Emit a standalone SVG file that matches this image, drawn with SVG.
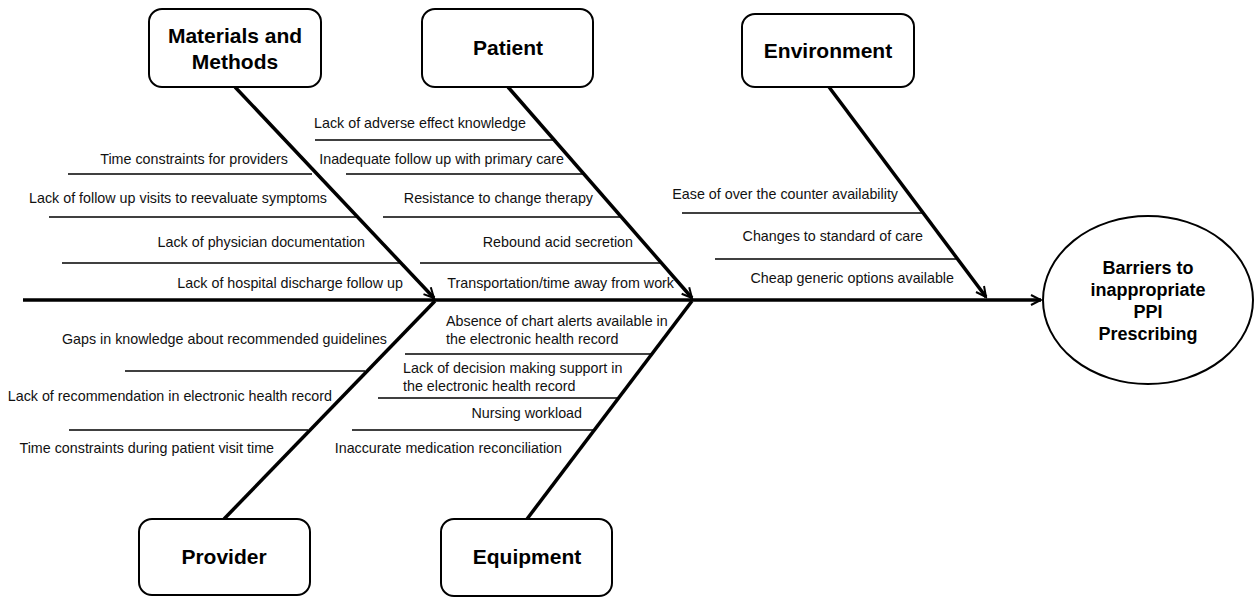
<svg xmlns="http://www.w3.org/2000/svg" width="1260" height="597" viewBox="0 0 1260 597">
<defs>
<marker id="arr" markerUnits="userSpaceOnUse" markerWidth="14" markerHeight="14" viewBox="0 0 14 14" refX="12" refY="7" orient="auto">
<path d="M2,2 L12,7 L2,12" fill="none" stroke="#000" stroke-width="2"/>
</marker>
<style>
.box{fill:#fff;stroke:#000;stroke-width:2}
.hd{font-family:"Liberation Sans",Arial,sans-serif;font-weight:bold;font-size:21px;fill:#000;text-anchor:middle}
.ct{font-family:"Liberation Sans",Arial,sans-serif;font-weight:bold;font-size:18px;fill:#000;text-anchor:middle}
.t{font-family:"Liberation Sans",Arial,sans-serif;font-size:14.3px;fill:#111}
.e{text-anchor:end}
.bone{stroke:#000;stroke-width:3.5;fill:none}
.sub{stroke:#000;stroke-width:1.5;fill:none}
</style>
</defs>
<rect width="1260" height="597" fill="#fff"/>
<g id="connectors">
<line class="bone" x1="23" y1="300" x2="1041" y2="300" marker-end="url(#arr)"/>
<line class="bone" x1="235" y1="87" x2="434" y2="298" marker-end="url(#arr)"/>
<line class="bone" x1="508" y1="87" x2="692" y2="298" marker-end="url(#arr)"/>
<line class="bone" x1="829" y1="87" x2="986" y2="297" marker-end="url(#arr)"/>
<line class="bone" x1="224" y1="519" x2="435" y2="301"/>
<line class="bone" x1="527" y1="519" x2="692" y2="301"/>
<line class="sub" x1="68" y1="174" x2="312" y2="174"/>
<line class="sub" x1="49" y1="217" x2="357" y2="217"/>
<line class="sub" x1="62" y1="263" x2="400" y2="263"/>
<line class="sub" x1="315" y1="140" x2="554" y2="140"/>
<line class="sub" x1="346" y1="174" x2="584" y2="174"/>
<line class="sub" x1="383" y1="217" x2="621" y2="217"/>
<line class="sub" x1="420" y1="263" x2="661" y2="263"/>
<line class="sub" x1="682" y1="213" x2="923" y2="213"/>
<line class="sub" x1="715" y1="259" x2="957" y2="259"/>
<line class="sub" x1="125" y1="371" x2="365" y2="371"/>
<line class="sub" x1="69" y1="430" x2="308" y2="430"/>
<line class="sub" x1="405" y1="354" x2="651" y2="354"/>
<line class="sub" x1="378" y1="398" x2="618" y2="398"/>
<line class="sub" x1="352" y1="430" x2="593" y2="430"/>
</g>
<g id="materials">
<rect class="box" x="149" y="9" width="172" height="78" rx="13"/>
<text class="hd" x="235" y="43">Materials and</text>
<text class="hd" x="235" y="69">Methods</text>
<text class="t e" x="288" y="164">Time constraints for providers</text>
<text class="t e" x="327" y="203">Lack of follow up visits to reevaluate symptoms</text>
<text class="t e" x="365" y="247">Lack of physician documentation</text>
<text class="t e" x="403" y="288">Lack of hospital discharge follow up</text>
</g>
<g id="patient">
<rect class="box" x="422" y="9" width="171" height="78" rx="13"/>
<text class="hd" x="508" y="55">Patient</text>
<text class="t e" x="526" y="128">Lack of adverse effect knowledge</text>
<text class="t e" x="564" y="164">Inadequate follow up with primary care</text>
<text class="t e" x="593" y="203">Resistance to change therapy</text>
<text class="t e" x="633" y="247">Rebound acid secretion</text>
<text class="t e" x="674" y="288">Transportation/time away from work</text>
</g>
<g id="environment">
<rect class="box" x="742" y="14" width="172" height="73" rx="13"/>
<text class="hd" x="828" y="58">Environment</text>
<text class="t e" x="898" y="199">Ease of over the counter availability</text>
<text class="t e" x="923" y="241">Changes to standard of care</text>
<text class="t e" x="954" y="283">Cheap generic options available</text>
</g>
<g id="provider">
<rect class="box" x="139" y="519" width="171" height="76" rx="13"/>
<text class="hd" x="224" y="564">Provider</text>
<text class="t e" x="387" y="344">Gaps in knowledge about recommended guidelines</text>
<text class="t e" x="332" y="401">Lack of recommendation in electronic health record</text>
<text class="t e" x="274" y="453">Time constraints during patient visit time</text>
</g>
<g id="equipment">
<rect class="box" x="441" y="519" width="171" height="77" rx="13"/>
<text class="hd" x="527" y="564">Equipment</text>
<text class="t" x="446" y="326">Absence of chart alerts available in</text>
<text class="t" x="446" y="344">the electronic health record</text>
<text class="t" x="403" y="373">Lack of decision making support in</text>
<text class="t" x="403" y="391">the electronic health record</text>
<text class="t e" x="582" y="418">Nursing workload</text>
<text class="t e" x="562" y="453">Inaccurate medication reconciliation</text>
</g>
<g id="outcome">
<ellipse cx="1148" cy="300" rx="105" ry="84" fill="#fff" stroke="#000" stroke-width="2"/>
<text class="ct" x="1148" y="274">Barriers to</text>
<text class="ct" x="1148" y="296">inappropriate</text>
<text class="ct" x="1148" y="318">PPI</text>
<text class="ct" x="1148" y="340">Prescribing</text>
</g>
</svg>
